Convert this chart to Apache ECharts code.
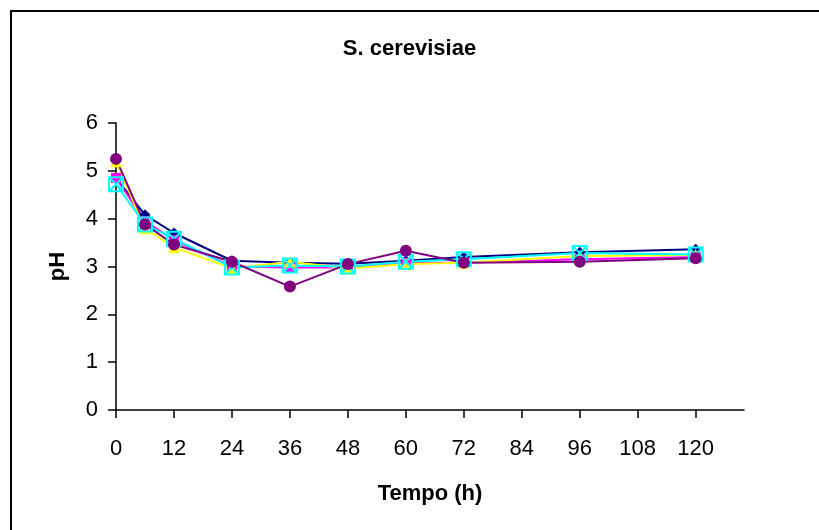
<!DOCTYPE html>
<html>
<head>
<meta charset="utf-8">
<script src="https://cdn.jsdelivr.net/npm/echarts@6/dist/echarts.min.js"></script>
<style>
html,body{margin:0;padding:0;background:#fff;}
#chart{width:819px;height:530px;}
</style>
</head>
<body>
<div id="chart"></div>
<script>
// ---- data ----
var hours = [0, 6, 12, 24, 36, 48, 60, 72, 96, 120];
var seriesNavy    = [4.85, 4.08, 3.70, 3.12, 3.08, 3.06, 3.12, 3.20, 3.30, 3.36];
var seriesMagenta = [4.85, 3.95, 3.55, 3.00, 2.98, 2.98, 3.08, 3.08, 3.15, 3.20];
var seriesYellow  = [5.20, 3.80, 3.40, 2.96, 3.10, 2.96, 3.05, 3.08, 3.22, 3.24];
var seriesCyan    = [4.72, 3.88, 3.58, 2.98, 3.02, 3.00, 3.10, 3.15, 3.28, 3.25];
var seriesPurple  = [5.25, 3.88, 3.46, 3.10, 2.58, 3.05, 3.33, 3.08, 3.10, 3.17];
var xTicks = [0, 12, 24, 36, 48, 60, 72, 84, 96, 108, 120];
var yTicks = [0, 1, 2, 3, 4, 5, 6];
var chartTitle = 'S. cerevisiae';
var xName = 'Tempo (h)';
var yName = 'pH';

function pairs(vals) {
  return hours.map(function (h, i) { return [h, vals[i]]; });
}

var font = 'Liberation Sans, Arial, sans-serif';
var chart = echarts.init(document.getElementById('chart'));

function lineSeries(name, vals, color, symbol, size, itemStyle) {
  return {
    name: name,
    type: 'line',
    data: pairs(vals),
    symbol: symbol,
    symbolSize: size,
    showSymbol: true,
    animation: false,
    lineStyle: { color: color, width: 2 },
    itemStyle: itemStyle || { color: color },
    emphasis: { disabled: true }
  };
}

chart.setOption({
  backgroundColor: '#fff',
  animation: false,
  title: {
    text: chartTitle,
    left: 'center',
    top: 33,
    textStyle: { fontFamily: font, fontWeight: 'bold', fontSize: 22, color: '#000' }
  },
  graphic: [{
    type: 'rect',
    shape: { x: 11, y: 11, width: 900, height: 600 },
    style: { fill: 'none', stroke: '#000', lineWidth: 2 },
    silent: true
  }],
  grid: { left: 116, top: 123, right: 75, bottom: 120, containLabel: false },
  xAxis: {
    type: 'value',
    min: 0,
    max: 130,
    interval: 12,
    name: xName,
    nameLocation: 'middle',
    nameGap: 73,
    nameTextStyle: { fontFamily: font, fontWeight: 'bold', fontSize: 22, color: '#000' },
    axisLine: { lineStyle: { color: '#000', width: 1.5 } },
    axisTick: { show: true, inside: false, length: 8, lineStyle: { color: '#000', width: 1.5 }, customValues: xTicks },
    axisLabel: { fontFamily: font, fontSize: 22, color: '#000', margin: 28, customValues: xTicks },
    splitLine: { show: false }
  },
  yAxis: {
    type: 'value',
    min: 0,
    max: 6,
    interval: 1,
    name: yName,
    nameLocation: 'middle',
    nameGap: 47,
    nameRotate: 90,
    nameTextStyle: { fontFamily: font, fontWeight: 'bold', fontSize: 22, color: '#000' },
    axisLine: { show: true, lineStyle: { color: '#000', width: 1.5 } },
    axisTick: { show: true, inside: false, length: 8, lineStyle: { color: '#000', width: 1.5 }, customValues: yTicks },
    axisLabel: { fontFamily: font, fontSize: 22, color: '#000', margin: 18, customValues: yTicks },
    splitLine: { show: false }
  },
  series: [
    lineSeries('A', seriesNavy, '#000080', 'diamond', 11),
    lineSeries('B', seriesMagenta, '#FF00FF', 'rect', 10),
    lineSeries('C', seriesYellow, '#FFFF00', 'triangle', 12),
    lineSeries('D', seriesCyan, '#00FFFF',
      'path://M0,0L10,0L10,10L0,10Z M0,0L10,10 M10,0L0,10', 14,
      { color: 'rgba(0,0,0,0)', borderColor: '#00FFFF', borderWidth: 2 }),
    lineSeries('E', seriesPurple, '#800080', 'circle', 12)
  ]
});
</script>
</body>
</html>
